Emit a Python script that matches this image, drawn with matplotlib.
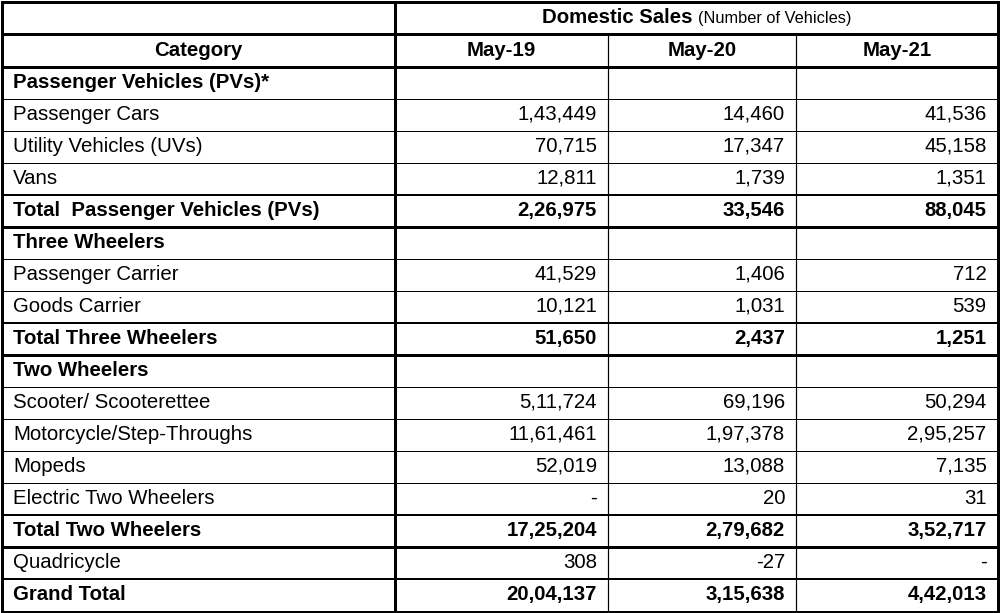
import matplotlib
matplotlib.use("Agg")
import matplotlib.pyplot as plt

plt.rcParams['font.family'] = ['Liberation Sans', 'DejaVu Sans']

title_main = "Domestic Sales"
title_sub = "(Number of Vehicles)"
col_header = ["Category", "May-19", "May-20", "May-21"]

categories = [
    "Passenger Vehicles (PVs)*",
    "Passenger Cars",
    "Utility Vehicles (UVs)",
    "Vans",
    "Total  Passenger Vehicles (PVs)",
    "Three Wheelers",
    "Passenger Carrier",
    "Goods Carrier",
    "Total Three Wheelers",
    "Two Wheelers",
    "Scooter/ Scooterettee",
    "Motorcycle/Step-Throughs",
    "Mopeds",
    "Electric Two Wheelers",
    "Total Two Wheelers",
    "Quadricycle",
    "Grand Total",
]
may19 = ["", "1,43,449", "70,715", "12,811", "2,26,975", "", "41,529", "10,121", "51,650",
         "", "5,11,724", "11,61,461", "52,019", "-", "17,25,204", "308", "20,04,137"]
may20 = ["", "14,460", "17,347", "1,739", "33,546", "", "1,406", "1,031", "2,437",
         "", "69,196", "1,97,378", "13,088", "20", "2,79,682", "-27", "3,15,638"]
may21 = ["", "41,536", "45,158", "1,351", "88,045", "", "712", "539", "1,251",
         "", "50,294", "2,95,257", "7,135", "31", "3,52,717", "-", "4,42,013"]
bold_rows = [0, 4, 5, 8, 9, 14, 16]
total_rows = [4, 8, 14, 16]

W, H = 1000, 613
fig = plt.figure(figsize=(W / 100, H / 100), dpi=100)
ax = fig.add_axes([0, 0, 1, 1])
ax.set_xlim(0, W)
ax.set_ylim(H, 0)
ax.axis('off')

px = 0.72
col_x = [1.5, 395, 608, 796, 997.5]
hdr_h = 33
top = 1.5
y_h1 = top + 32.5
y_h2 = y_h1 + hdr_h
n = len(categories)
bottom = 611.5
row_h = (bottom - y_h2) / n
row_y = [y_h2 + i * row_h for i in range(n + 1)]

fs = 14.7

def hline(y, lw, x0=col_x[0], x1=col_x[-1]):
    ax.plot([x0, x1], [y, y], color='black', lw=lw * px, solid_capstyle='projecting')

def vline(x, y0, y1, lw):
    ax.plot([x, x], [y0, y1], color='black', lw=lw * px, solid_capstyle='projecting')

# header lines
hline(top, 3)
hline(y_h1, 3)
hline(y_h2, 3)
for i in range(1, n):
    if i in total_rows:
        lw = 2
    elif (i - 1) in total_rows:
        lw = 3
    else:
        lw = 1
    hline(row_y[i], lw)
hline(bottom, 3)

# vertical lines
vline(col_x[0], top, bottom, 3)
vline(col_x[1], top, bottom, 3)
vline(col_x[2], y_h1, bottom, 1.2)
vline(col_x[3], y_h1, bottom, 1.2)
vline(col_x[4], top, bottom, 3)

# header texts
ax.text(692, (top + y_h1) / 2 - 0.5, title_main, ha='right', va='center',
        fontsize=fs, fontweight='bold')
ax.text(698, (top + y_h1) / 2 + 0.5, title_sub, ha='left', va='center', fontsize=11.8)
for j, h in enumerate(col_header):
    cx = (col_x[j] + col_x[j + 1]) / 2
    ax.text(cx, (y_h1 + y_h2) / 2 - 0.5, h, ha='center', va='center',
            fontsize=fs, fontweight='bold')

# body
value_cols = [may19, may20, may21]
for i, cat in enumerate(categories):
    cy = (row_y[i] + row_y[i + 1]) / 2 - 1.0
    wt = 'bold' if i in bold_rows else 'normal'
    ax.text(13, cy, cat, ha='left', va='center', fontsize=fs, fontweight=wt)
    for j, vals in enumerate(value_cols):
        ax.text(col_x[j + 2] - 11, cy, vals[i], ha='right', va='center',
                fontsize=fs, fontweight=wt)

fig.savefig("out.png", dpi=100, facecolor='white')
